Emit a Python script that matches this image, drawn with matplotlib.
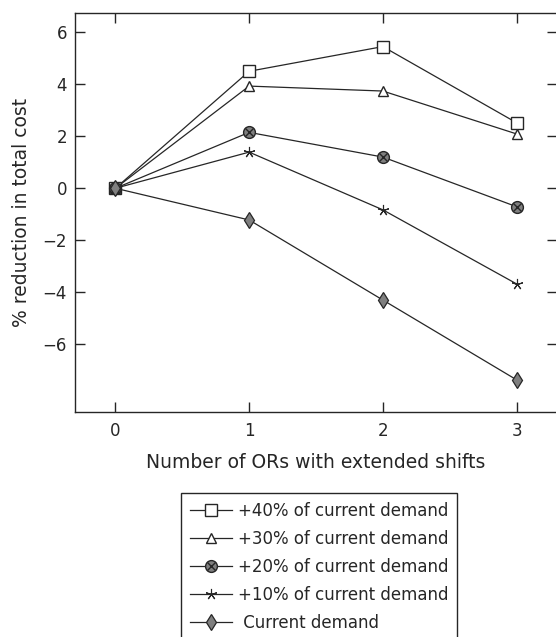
import matplotlib
matplotlib.use("Agg")
import matplotlib.pyplot as plt
from matplotlib.legend_handler import HandlerTuple

plt.rcParams['font.family'] = ['DejaVu Sans']

# Number of operating rooms running extended shifts
n_rooms = [0, 1, 2, 3]

# % reduction in total cost for each demand scenario
plus40 = [0.0, 4.50, 5.45, 2.52]
plus30 = [0.0, 3.93, 3.74, 2.09]
plus20 = [0.0, 2.15, 1.20, -0.71]
plus10 = [0.0, 1.39, -0.83, -3.68]
current = [0.0, -1.22, -4.30, -7.37]

labels = ["+40% of current demand", "+30% of current demand",
          "+20% of current demand", "+10% of current demand",
          " Current demand"]

y_ticks = [-6, -4, -2, 0, 2, 4, 6]

ink = "#262626"
grey = "#7f7f7f"
lw = 0.9

fig = plt.figure(figsize=(5.56, 6.37), dpi=100)
ax = fig.add_axes([0.1354, 0.3527, 0.8659, 0.6264])

l40, = ax.plot(n_rooms, plus40, color=ink, lw=lw, marker='s', ms=8,
               mfc='white', mec=ink, mew=1.0)
l30, = ax.plot(n_rooms, plus30, color=ink, lw=lw, marker='^', ms=7.5,
               mfc='white', mec=ink, mew=1.0)
l20, = ax.plot(n_rooms, plus20, color=ink, lw=lw, marker='o', ms=8.5,
               mfc=grey, mec=ink, mew=1.0)
l20x, = ax.plot(n_rooms, plus20, ls='none', marker='x', ms=5.5,
                mec=ink, mew=1.0)
l10, = ax.plot(n_rooms, plus10, color=ink, lw=lw, marker=(5, 2, 0), ms=8,
               mec=ink, mew=0.8)
lcur, = ax.plot(n_rooms, current, color=ink, lw=lw, marker='d', ms=8.5,
                mfc=grey, mec=ink, mew=0.9)

ax.set_xlim(-0.3, 3.3)
ax.set_ylim(-8.62, 6.73)
ax.set_xticks(n_rooms)
ax.set_yticks(y_ticks)
ax.set_yticklabels([str(t).replace('-', '\u2212') for t in y_ticks])

ax.tick_params(axis='both', direction='in', length=7.5, width=1.0,
               color=ink, labelcolor=ink, labelsize=12,
               top=True, right=True)
ax.tick_params(axis='x', pad=7)
ax.tick_params(axis='y', pad=6)
for sp in ax.spines.values():
    sp.set_color(ink)
    sp.set_linewidth(1.0)

ax.set_xlabel("Number of ORs with extended shifts", fontsize=13.5,
              color=ink, labelpad=9)
ax.set_ylabel("% reduction in total cost", fontsize=13.5, color=ink,
              labelpad=8)

handles = [l40, l30, (l20, l20x), l10, lcur]
leg = fig.legend(handles, labels, loc='upper left',
                 bbox_to_anchor=(0.3250, 0.2261), borderaxespad=0,
                 fontsize=12, frameon=True, fancybox=False,
                 edgecolor=ink, framealpha=1, handlelength=2.5,
                 handletextpad=0.36, borderpad=0.55, labelspacing=0.6,
                 numpoints=1,
                 handler_map={tuple: HandlerTuple(ndivide=1, pad=0)})
leg.get_frame().set_linewidth(1.0)
for t in leg.get_texts():
    t.set_color(ink)

fig.savefig("out.png", dpi=100)
